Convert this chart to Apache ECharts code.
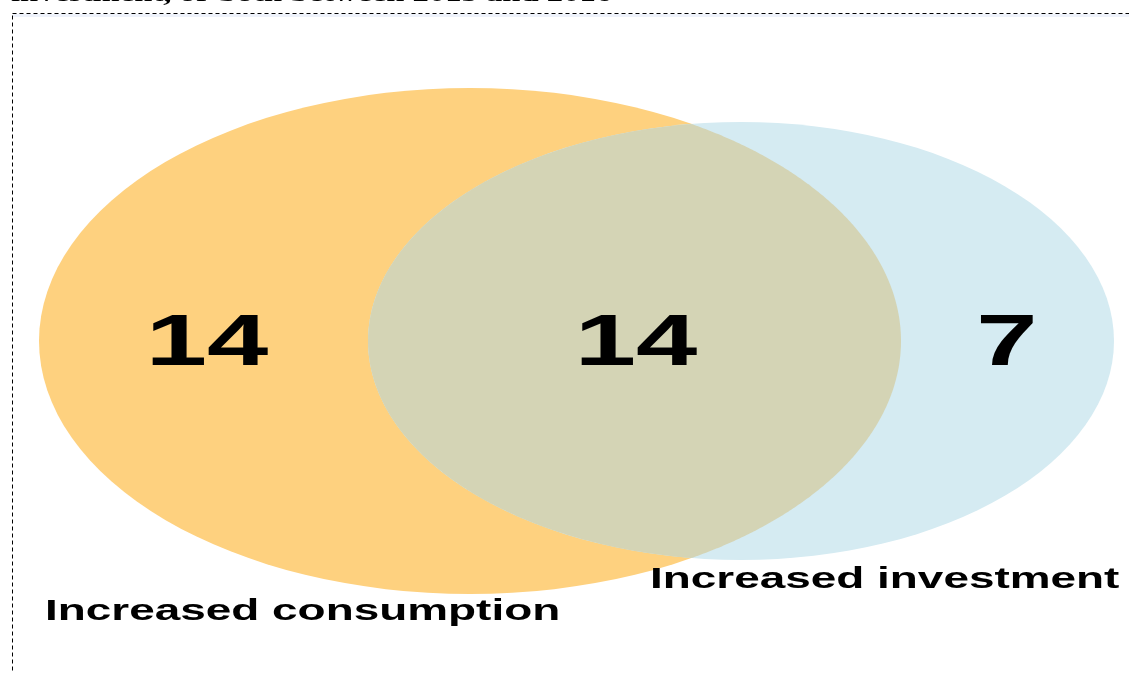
<!DOCTYPE html>
<html>
<head>
<meta charset="utf-8">
<title>Increased consumption and investment</title>
<script src="https://cdn.jsdelivr.net/npm/echarts@6/dist/echarts.min.js"></script>
<style>
  html, body { margin: 0; padding: 0; background: #ffffff; }
  #chart { width: 1129px; height: 673px; }
</style>
</head>
<body>
<div id="chart"></div>
<script>
// Set names and region counts (left only, both, right only)
const setNames = ['Increased consumption', 'Increased investment'];
const regionCounts = [14, 14, 7];
const titleText = 'investment, or both between 2015 and 2016';

// Drawing layout (in page-pixel units on hidden axes)
const W = 1129, H = 673;
const STRETCH = 1.53;
const ellipses = [
  { cx: 470, cy: 341, rx: 431, ry: 253, color: '#FED17F' },
  { cx: 741, cy: 341, rx: 373, ry: 219, color: '#D5EBF2' }
];
const overlapColor = '#D4D4B5';
const countPos = [[207, 345], [636, 345], [1007, 345]];
const namePos = [[45, 612], [650, 580]];

function ellipsePath(c, r) {
  const [x, y] = c, [rx, ry] = r;
  return 'M' + (x - rx) + ' ' + y +
    ' A' + rx + ' ' + ry + ' 0 1 0 ' + (x + rx) + ' ' + y +
    ' A' + rx + ' ' + ry + ' 0 1 0 ' + (x - rx) + ' ' + y + ' Z';
}

function toPixel(api, e) {
  const c = api.coord([e.cx, e.cy]);
  const o = api.coord([e.cx + e.rx, e.cy + e.ry]);
  return { c: c, r: [Math.abs(o[0] - c[0]), Math.abs(o[1] - c[1])] };
}

// distance along a ray from p to the boundary of an ellipse containing p
function rayToEllipse(p, d, c, r) {
  const u = (p[0] - c[0]) / r[0], v = (p[1] - c[1]) / r[1];
  const a = d[0] / r[0], b = d[1] / r[1];
  const A = a * a + b * b, B = 2 * (u * a + v * b), C = u * u + v * v - 1;
  return (-B + Math.sqrt(B * B - 4 * A * C)) / (2 * A);
}

const chart = echarts.init(document.getElementById('chart'), null, { renderer: 'canvas' });

chart.setOption({
  animation: false,
  backgroundColor: '#ffffff',
  grid: { left: 0, right: 0, top: 0, bottom: 0 },
  xAxis: { type: 'value', min: 0, max: W, show: false },
  yAxis: { type: 'value', min: 0, max: H, inverse: true, show: false },
  graphic: [
    {
      type: 'rect', z: 0,
      shape: { x: 13, y: 14, width: W - 13, height: 3 },
      style: { fill: '#EEF2FB' }
    },
    {
      type: 'rect', z: 10,
      shape: { x: 12.5, y: 13.5, width: W, height: H },
      style: { fill: null, stroke: '#000000', lineWidth: 1, lineDash: [4, 3] }
    },
    {
      type: 'text', z: 10,
      x: 11, y: 7, scaleX: 1.36,
      style: {
        text: titleText,
        font: 'bold 24px "Liberation Serif", "Times New Roman", serif',
        fill: '#000000',
        textAlign: 'left',
        textVerticalAlign: 'bottom'
      }
    }
  ],
  series: [
    {
      // the two sets
      type: 'custom',
      coordinateSystem: 'cartesian2d',
      data: setNames.map((n, i) => [i]),
      renderItem: function (params, api) {
        const e = ellipses[api.value(0)];
        const px = toPixel(api, e);
        return {
          type: 'path',
          shape: { pathData: ellipsePath(px.c, px.r) },
          style: { fill: e.color }
        };
      },
      z: 1
    },
    {
      // intersection of the two sets
      type: 'custom',
      coordinateSystem: 'cartesian2d',
      data: [[0]],
      renderItem: function (params, api) {
        const a = toPixel(api, ellipses[0]);
        const b = toPixel(api, ellipses[1]);
        const p = api.coord([ (ellipses[0].cx + ellipses[0].rx + ellipses[1].cx - ellipses[1].rx) / 2, ellipses[0].cy ]);
        const pts = [];
        const N = 720;
        for (let k = 0; k < N; k++) {
          const t = (k / N) * Math.PI * 2;
          const d = [Math.cos(t), Math.sin(t)];
          const s = Math.min(rayToEllipse(p, d, a.c, a.r), rayToEllipse(p, d, b.c, b.r));
          pts.push([p[0] + d[0] * s, p[1] + d[1] * s]);
        }
        return {
          type: 'polygon',
          shape: { points: pts },
          style: { fill: overlapColor }
        };
      },
      z: 2
    },
    {
      // region counts
      type: 'custom',
      coordinateSystem: 'cartesian2d',
      data: regionCounts.map((v, i) => [i, v]),
      renderItem: function (params, api) {
        const i = api.value(0);
        const c = api.coord(countPos[i]);
        return {
          type: 'text',
          x: c[0], y: c[1], scaleX: STRETCH,
          style: {
            text: String(api.value(1)),
            font: 'bold 72px "Liberation Sans", Arial, sans-serif',
            fill: '#000000',
            textAlign: 'center',
            textVerticalAlign: 'middle'
          }
        };
      },
      z: 3
    },
    {
      // set names
      type: 'custom',
      coordinateSystem: 'cartesian2d',
      data: setNames.map((n, i) => [i]),
      renderItem: function (params, api) {
        const i = api.value(0);
        const c = api.coord(namePos[i]);
        return {
          type: 'text',
          x: c[0], y: c[1], scaleX: STRETCH,
          style: {
            text: setNames[i],
            font: 'bold 30px "Liberation Sans", Arial, sans-serif',
            fill: '#000000',
            textAlign: 'left',
            textVerticalAlign: 'middle'
          }
        };
      },
      z: 3
    }
  ]
});
</script>
</body>
</html>
